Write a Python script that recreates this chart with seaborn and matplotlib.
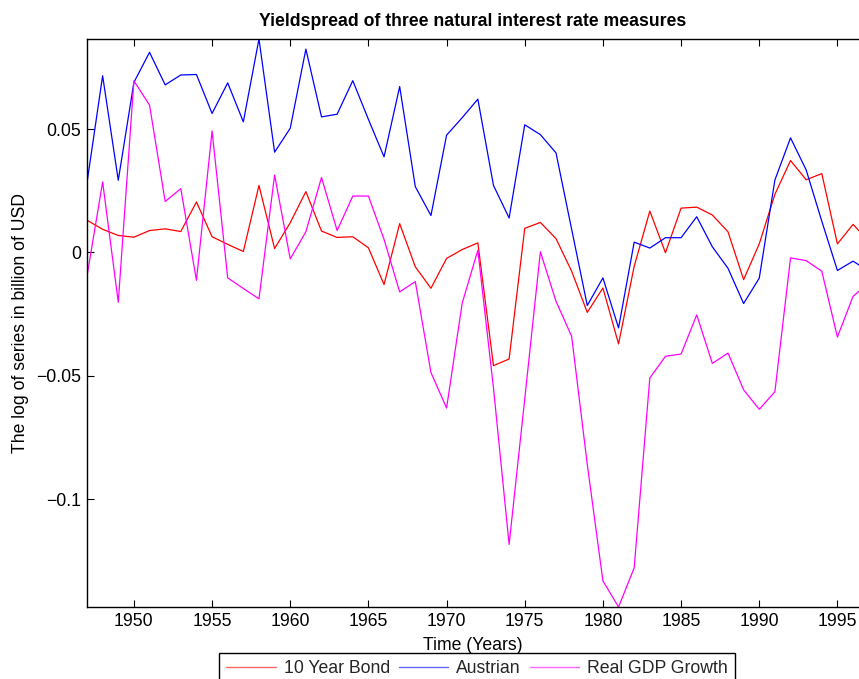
import matplotlib
matplotlib.use("Agg")
import matplotlib.pyplot as plt
from matplotlib.lines import Line2D
from matplotlib.ticker import FixedLocator, FuncFormatter
import seaborn as sns
import pandas as pd

# ---- data ----
years = list(range(1947, 1998))

bond = [0.0131, 0.0094, 0.0069, 0.0062, 0.0089, 0.0096, 0.0085, 0.0205, 0.0064, 0.0033,
        0.0004, 0.0272, 0.0016, 0.0121, 0.0247, 0.0087, 0.0061, 0.0064, 0.0019, -0.0130,
        0.0117, -0.0058, -0.0145, -0.0024, 0.0012, 0.0039, -0.0459, -0.0432, 0.0098, 0.0122,
        0.0056, -0.0076, -0.0243, -0.0144, -0.0371, -0.0056, 0.0168, -0.0001, 0.0180, 0.0184,
        0.0152, 0.0084, -0.0110, 0.0035, 0.0236, 0.0373, 0.0295, 0.0320, 0.0035, 0.0114,
        0.0046]

austrian = [0.0283, 0.0717, 0.0293, 0.0690, 0.0812, 0.0680, 0.0720, 0.0722, 0.0564, 0.0688,
            0.0530, 0.0866, 0.0407, 0.0504, 0.0825, 0.0550, 0.0561, 0.0697, 0.0540, 0.0388,
            0.0673, 0.0267, 0.0150, 0.0476, 0.0547, 0.0622, 0.0272, 0.0140, 0.0518, 0.0478,
            0.0404, 0.0094, -0.0215, -0.0103, -0.0306, 0.0042, 0.0018, 0.0060, 0.0060, 0.0145,
            0.0023, -0.0064, -0.0207, -0.0104, 0.0294, 0.0465, 0.0335, 0.0127, -0.0073, -0.0035,
            -0.0076]

gdp = [-0.0096, 0.0286, -0.0202, 0.0696, 0.0598, 0.0207, 0.0259, -0.0113, 0.0493, -0.0103,
       -0.0146, -0.0188, 0.0314, -0.0026, 0.0084, 0.0304, 0.0089, 0.0229, 0.0229, 0.0053,
       -0.0160, -0.0118, -0.0487, -0.0631, -0.0205, 0.0009, -0.0550, -0.1184, -0.0594, 0.0003,
       -0.0198, -0.0340, -0.0860, -0.1332, -0.1438, -0.1279, -0.0509, -0.0421, -0.0412, -0.0253,
       -0.0450, -0.0408, -0.0557, -0.0636, -0.0565, -0.0022, -0.0033, -0.0076, -0.0343, -0.0178,
       -0.0122]

series_names = ["10 Year Bond", "Austrian", "Real GDP Growth"]
series_colors = ["#ff0000", "#0000ff", "#ff00ff"]
x_ticks = [1950, 1955, 1960, 1965, 1970, 1975, 1980, 1985, 1990, 1995]
y_ticks = [-0.1, -0.05, 0, 0.05]

title = "Yieldspread of three natural interest rate measures"
x_label = "Time (Years)"
y_label = "The log of series in billion of USD"

# ---- build table ----
df = pd.DataFrame({
    "Year": years * 3,
    "Value": bond + austrian + gdp,
    "Series": [series_names[0]] * len(years) + [series_names[1]] * len(years)
              + [series_names[2]] * len(years),
})

sns.set_theme(style="white")
plt.rcParams["font.family"] = ["Liberation Sans", "DejaVu Sans"]
plt.rcParams["axes.unicode_minus"] = True

FS = 12.7
W, H = 859, 679
fig = plt.figure(figsize=(W / 100, H / 100), dpi=100)
fig.patch.set_facecolor("white")
ax = fig.add_axes([87 / W, 1 - 607 / H, 1 - 87 / W, (607 - 39) / H])

sns.lineplot(data=df, x="Year", y="Value", hue="Series",
             palette=dict(zip(series_names, series_colors)),
             linewidth=0.9, estimator=None, sort=False, legend=False, ax=ax)

ax.set_xlim(1947, 1996.38)
ax.set_ylim(df["Value"].min(), df["Value"].max())

ax.xaxis.set_major_locator(FixedLocator(x_ticks))
ax.yaxis.set_major_locator(FixedLocator(y_ticks))
ax.yaxis.set_major_formatter(FuncFormatter(lambda v, p: ("%g" % v).replace("-", "\u2212")))
ax.xaxis.set_major_formatter(FuncFormatter(lambda v, p: "%d" % v))

ax.tick_params(axis="both", direction="in", length=5, width=0.8, colors="black",
               labelsize=FS, pad=4)
ax.tick_params(axis="x", top=True, bottom=True)
ax.tick_params(axis="y", left=True, right=False)

for side in ["left", "top", "bottom"]:
    ax.spines[side].set_color("black")
    ax.spines[side].set_linewidth(1.0)
ax.spines["right"].set_visible(False)

ax.set_title(title, fontsize=FS, fontweight="bold", pad=9.5, color="black")
ax.set_xlabel(x_label, fontsize=FS, labelpad=5, color="black")
ax.set_ylabel(y_label, fontsize=FS, labelpad=5.5, color="black")

handles = [Line2D([0], [0], color=c, lw=1.0, alpha=0.6) for c in series_colors]
leg = fig.legend(handles, series_names, loc="upper center",
                 bbox_to_anchor=(477 / W, 1 - 653 / H), ncol=3, frameon=True,
                 fancybox=False, edgecolor="black", framealpha=1, borderaxespad=0,
                 handlelength=2.8, handletextpad=0.45, columnspacing=0.5,
                 borderpad=0.4, fontsize=FS)
leg.get_frame().set_linewidth(1.0)

fig.savefig("out.png", dpi=100)
